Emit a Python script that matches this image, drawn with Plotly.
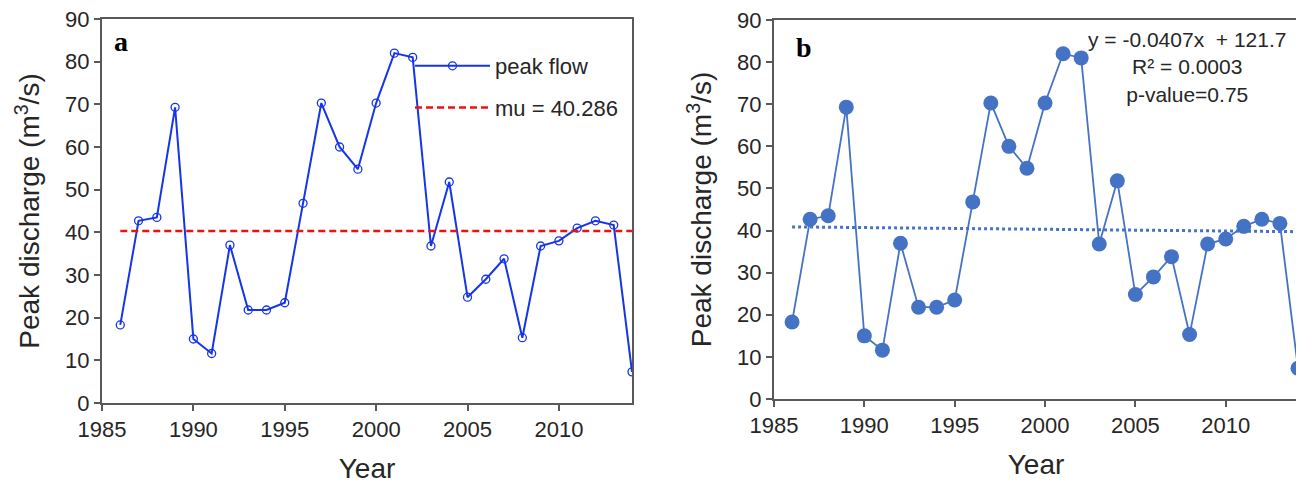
import plotly.graph_objects as go

years = list(range(1986, 2015))
peak = [18.3, 42.7, 43.5, 69.3, 15.0, 11.6, 37.0, 21.8, 21.8, 23.5,
        46.8, 70.3, 60.0, 54.8, 70.3, 82.0, 81.0, 36.8, 51.8, 24.8,
        29.0, 33.8, 15.3, 36.8, 38.0, 41.0, 42.7, 41.7, 7.3]
mu = 40.286
slope = -0.0407
intercept = 121.7
trend_years = [1986, 2014]
trend_vals = [slope * y + intercept for y in trend_years]
x_ticks = [1985, 1990, 1995, 2000, 2005, 2010]
y_ticks = [0, 10, 20, 30, 40, 50, 60, 70, 80, 90]

# page body has an 8px default margin
OFF = 8
W, H = 1304 - OFF, 492 - OFF
def px_x(a, b):
    return [(a - OFF) / W, (b - OFF) / W]
def px_y(top, bottom):
    return [1 - (bottom - OFF) / H, 1 - (top - OFF) / H]
def pxx(a):
    return (a - OFF) / W
def pxy(a):
    return 1 - (a - OFF) / H

FONT = "Liberation Sans, Arial, sans-serif"
BLUE_A = "#1535E8"
BLUE_B = "#4472C4"
AXC = "#595959"
TXT = "#262626"

fig = go.Figure()

fig.add_trace(go.Scatter(
    x=years, y=peak, mode="lines+markers", name="peak flow",
    line=dict(color=BLUE_A, width=2),
    marker=dict(symbol="circle-open", size=8, color=BLUE_A, line=dict(width=1.3)),
    xaxis="x", yaxis="y", legend="legend", legendgroup="g1"))
fig.add_trace(go.Scatter(
    x=[years[0], years[-1]], y=[mu, mu], mode="lines", name="mu = 40.286",
    line=dict(color="#EE1111", width=2.5, dash="7px,4px"),
    xaxis="x", yaxis="y", legend="legend", legendgroup="g2"))

fig.add_trace(go.Scatter(
    x=years, y=peak, mode="lines+markers", showlegend=False,
    line=dict(color=BLUE_B, width=1.8),
    marker=dict(symbol="circle", size=15, color=BLUE_B),
    xaxis="x2", yaxis="y2", cliponaxis=False))
fig.add_trace(go.Scatter(
    x=trend_years, y=trend_vals, mode="lines", showlegend=False,
    line=dict(color=BLUE_B, width=3, dash="dot"),
    xaxis="x2", yaxis="y2"))

axis_common = dict(
    showline=True, linecolor=AXC, linewidth=2, mirror=True,
    ticks="outside", ticklen=6, tickwidth=2, tickcolor=AXC,
    showgrid=False, zeroline=False, automargin=False,
    ticklabeloverflow="allow",
    tickfont=dict(family=FONT, size=22, color=TXT),
)
title_font = dict(family=FONT, size=28, color=TXT)

fig.update_layout(
    width=W, height=H,
    margin=dict(l=0, r=0, t=0, b=0),
    paper_bgcolor="white", plot_bgcolor="white",
    showlegend=True,
    xaxis=dict(domain=px_x(102, 632), range=[1985, 2014], tickvals=x_ticks,
               title=dict(text="Year", font=title_font, standoff=17),
               anchor="y", **axis_common),
    yaxis=dict(domain=px_y(19, 403), range=[0, 90], tickvals=y_ticks,
               title=dict(text="Peak discharge (m<sup>3</sup>/s)", font=title_font, standoff=17),
               anchor="x", **axis_common),
    xaxis2=dict(domain=px_x(774, 1298), range=[1985, 2014], tickvals=x_ticks,
                title=dict(text="Year", font=title_font, standoff=17),
                anchor="y2", **axis_common),
    yaxis2=dict(domain=px_y(20, 399), range=[0, 90], tickvals=y_ticks,
                title=dict(text="Peak discharge (m<sup>3</sup>/s)", font=title_font, standoff=17),
                anchor="x2", **axis_common),
    legend=dict(x=pxx(410), y=pxy(45), xanchor="left", yanchor="top",
                bgcolor="rgba(0,0,0,0)", itemwidth=75, tracegroupgap=10,
                traceorder="grouped",
                font=dict(family=FONT, size=22, color=TXT)),
)

fig.add_annotation(x=pxx(112), y=pxy(42), xref="paper", yref="paper",
                   text="<b>a</b>", showarrow=False, xanchor="left", yanchor="middle",
                   font=dict(family="Liberation Serif, Times New Roman, serif", size=28, color="black"))
fig.add_annotation(x=pxx(794), y=pxy(48), xref="paper", yref="paper",
                   text="<b>b</b>", showarrow=False, xanchor="left", yanchor="middle",
                   font=dict(family="Liberation Serif, Times New Roman, serif", size=28, color="black"))
fig.add_annotation(x=pxx(1187), y=pxy(67), xref="paper", yref="paper",
                   text="y = -0.0407x  + 121.7<br>R² = 0.0003<br>p-value=0.75",
                   showarrow=False, xanchor="center", yanchor="middle", align="center",
                   font=dict(family=FONT, size=21, color=TXT))

fig.write_html("out.html")
